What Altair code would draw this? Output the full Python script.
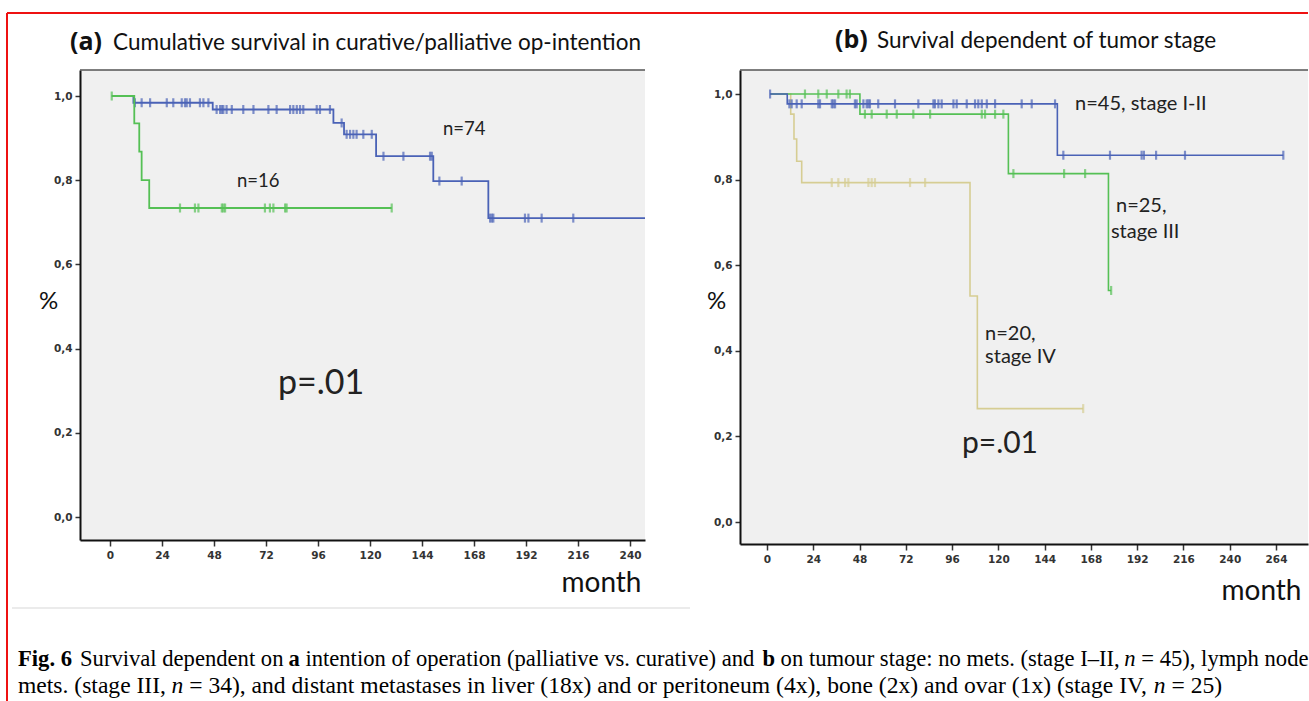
import altair as alt
import pandas as pd

# ---------------- data ----------------
# Panel (a): curative (n=74, blue) and palliative (n=16, green)
A_CUR_T = [0.8, 10.8, 47.4, 103.1, 108.0, 122.8, 149.2, 174.6, 252.0]
A_CUR_S = [1.0, 0.984, 0.968, 0.936, 0.909, 0.857, 0.798, 0.710, 0.710]
A_CUR_CENS = [11.5, 14.6, 18.5, 26.2, 29.2, 33.1, 34.6, 35.4, 36.9, 41.5, 43.1, 45.4,
              49.2, 50.8, 51.6, 52.3, 53.8, 56.2, 61.5, 66.2, 73.1, 76.9, 83.1, 84.6,
              86.2, 87.7, 89.2, 95.4, 96.9, 101.5, 106.9, 109.2, 110.8, 112.3, 113.8,
              116.9, 120.8, 126.2, 135.4, 147.7, 148.5, 152.0, 162.3, 175.4, 176.2,
              176.9, 191.5, 193.1, 199.2, 213.8]
A_PAL_T = [0.8, 11.2, 13.5, 14.6, 18.1, 130.0]
A_PAL_S = [1.0, 0.935, 0.868, 0.800, 0.734, 0.734]
A_PAL_CENS = [0.8, 32.3, 39.2, 40.8, 51.6, 52.3, 53.1, 71.5, 73.8, 75.4, 80.8, 81.5, 130.0]

# Panel (b): stage I-II (blue), stage III (green), stage IV (olive)
B_S12_T = [1.6, 10.5, 150.6, 267.8]
B_S12_S = [1.0, 0.977, 0.857, 0.857]
B_S12_CENS = [1.6, 11.6, 12.8, 15.4, 18.0, 26.6, 27.5, 33.6, 34.4, 35.3, 45.6, 46.5, 50.0,
              51.7, 52.6, 53.4, 57.7, 66.4, 78.5, 86.3, 87.1, 88.9, 90.6, 96.7, 98.4,
              103.6, 107.9, 109.6, 111.4, 114.0, 118.3, 132.1, 137.3, 149.4, 153.7,
              177.9, 194.3, 195.5, 201.8, 216.8, 267.8]
B_S3_T = [1.6, 48.2, 125.2, 177.1, 178.5]
B_S3_S = [1.0, 0.953, 0.814, 0.541, 0.541]
B_S3_CENS = [19.7, 26.6, 31.0, 37.0, 41.3, 43.0, 50.8, 54.3, 62.1, 67.3, 75.9, 84.6,
             111.4, 113.1, 118.3, 122.6, 127.8, 154.1, 165.0, 178.5]
B_S4_T = [1.6, 12.3, 14.0, 15.4, 18.0, 105.3, 109.1, 164.0]
B_S4_S = [1.0, 0.953, 0.895, 0.843, 0.793, 0.528, 0.265, 0.265]
B_S4_CENS = [33.6, 37.0, 40.5, 42.2, 52.6, 54.3, 56.0, 74.2, 82.0, 164.0]

X_TICKS_A = [0, 24, 48, 72, 96, 120, 144, 168, 192, 216, 240]
X_TICKS_B = [0, 24, 48, 72, 96, 120, 144, 168, 192, 216, 240, 264]
Y_TICKS = [0.0, 0.2, 0.4, 0.6, 0.8, 1.0]

TITLE_A = ("(a)", "Cumulative survival in curative/palliative op-intention")
TITLE_B = ("(b)", "Survival dependent of tumor stage")

LABELS_A = [("n=74", 153.7, 0.922), ("n=16", 58.6, 0.798)]
PVAL_A = ("p=.01", 77.5, 0.316)
LABELS_B = [("n=45, stage I-II", 159.8, 0.977), ("n=25,", 181.0, 0.738),
            ("stage III", 178.4, 0.678), ("n=20,", 113.1, 0.439), ("stage IV", 113.1, 0.386)]
PVAL_B = ("p=.01", 101.1, 0.182)

CAPTION_LINE1 = [("Fig. 6", "bold"), ("Survival dependent on ", "normal"), ("a", "bold"),
                 (" intention of operation (palliative vs. curative) and ", "normal"),
                 ("b", "bold"), (" on tumour stage: no mets. (stage I–II, ", "normal"),
                 ("n", "italic"), (" = 45), lymph node", "normal")]
CAPTION_LINE2 = [("mets. (stage III, ", "normal"), ("n", "italic"),
                 (" = 34), and distant metastases in liver (18x) and or peritoneum (4x), "
                  "bone (2x) and ovar (1x) (stage IV, ", "normal"),
                 ("n", "italic"), (" = 25)", "normal")]

BLUE = "#4a62b6"
GREEN = "#55c055"
OLIVE = "#d6cd93"
RED = "#ee1111"

# ---------------- geometry ----------------
A_W, A_H = 565, 470
B_W, B_H = 568, 474
A_XD = [-13.85, 246.9]
A_YD = [-0.0546, 1.0618]
B_XD = [-14.0, 280.6]
B_YD = [-0.0514, 1.0561]
A_LEFT, A_TOP = 80, 69  # page position of panel (a) plot area


def a_x(px):
    return A_XD[0] + (px - A_LEFT) / A_W * (A_XD[1] - A_XD[0])


def a_y(py):
    return A_YD[1] - (py - A_TOP) / A_H * (A_YD[1] - A_YD[0])


# Times / Liberation Serif advance widths (per 1000 em) for laying out caption runs
TIMES_R = {" ": 250, ".": 250, ",": 250, "(": 333, ")": 333, ":": 278, "=": 564, "–": 500,
           "F": 556, "S": 556, "I": 333, "V": 722, "a": 444, "b": 500, "c": 444, "d": 500,
           "e": 444, "g": 500, "h": 500, "i": 278, "l": 278, "m": 778, "n": 500, "o": 500,
           "p": 500, "r": 333, "s": 389, "t": 278, "u": 500, "v": 500, "x": 500, "y": 500}
TIMES_B = {" ": 250, ".": 250, "F": 611, "i": 278, "g": 500, "a": 500, "b": 556}


def run_width(text, style, size):
    table = TIMES_B if style == "bold" else TIMES_R
    return 0.997 * sum(table.get(ch, 500) for ch in text) / 1000.0 * size


def step_value(t, ts, ss):
    v = ss[0]
    for ti, si in zip(ts, ss):
        if ti <= t + 1e-9:
            v = si
    return v


def curve_layers(ts, ss, cens, color, xs, ys, width=1.8):
    line_df = pd.DataFrame({"t": ts, "s": ss})
    cens_df = pd.DataFrame({"t": cens, "s": [step_value(c, ts, ss) for c in cens]})
    line = alt.Chart(line_df).mark_line(interpolate="step-after", color=color,
                                        strokeWidth=width, clip=True).encode(
        x=alt.X("t:Q", scale=xs), y=alt.Y("s:Q", scale=ys))
    ticks = alt.Chart(cens_df).mark_tick(orient="vertical", color=color, size=9,
                                         thickness=2.2, clip=True).encode(
        x=alt.X("t:Q", scale=xs), y=alt.Y("s:Q", scale=ys))
    return [line, ticks]


def text_layer(rows, xs, ys, size, weight="normal", font="Lato", color="#222",
               style="normal", baseline="middle"):
    df = pd.DataFrame(rows, columns=["label", "x", "y"])
    return alt.Chart(df).mark_text(
        align="left", baseline=baseline, fontSize=size, fontWeight=weight,
        font=font, color=color, fontStyle=style).encode(
        x=alt.X("x:Q", scale=xs), y=alt.Y("y:Q", scale=ys), text="label:N")


def axes(xticks, pct_x, month_x, month_y):
    xaxis = alt.Axis(values=xticks, grid=False, domainColor="#111", domainWidth=2,
                     tickColor="#333", tickSize=6, tickWidth=1.5, labelFont="DejaVu Sans",
                     labelFontWeight="bold", labelFontSize=10.5, labelColor="#333",
                     labelPadding=4, title="month", titleFont="Lato", titleFontSize=28,
                     titleFontWeight="normal", titleColor="#111", titleAlign="right",
                     titleX=month_x, titleY=month_y, titleBaseline="middle")
    yaxis = alt.Axis(values=Y_TICKS, grid=False, domainColor="#111", domainWidth=2,
                     tickColor="#333", tickSize=5, tickWidth=1.5, labelFont="DejaVu Sans",
                     labelFontWeight="bold", labelFontSize=10.5, labelColor="#333",
                     labelPadding=3,
                     labelExpr="replace(format(datum.value, '.1f'), '.', ',')",
                     title="%", titleFont="Lato", titleFontSize=24, titleFontWeight="normal",
                     titleColor="#111", titleAngle=0, titleAlign="center",
                     titleBaseline="middle", titleX=pct_x, titleY=231)
    return xaxis, yaxis


def frame(xd, yd, xs, ys, xaxis, yaxis):
    # axis carrier + top border of the plot box
    df = pd.DataFrame({"x0": [xd[0]], "x1": [xd[1]], "y": [yd[1]]})
    return alt.Chart(df).mark_rule(color="#555", strokeWidth=1.5).encode(
        x=alt.X("x0:Q", scale=xs, axis=xaxis), x2="x1:Q",
        y=alt.Y("y:Q", scale=ys, axis=yaxis))


# ---------------- panel (a) ----------------
xs_a = alt.Scale(domain=A_XD, nice=False, zero=False)
ys_a = alt.Scale(domain=A_YD, nice=False, zero=False)
xa_axis, ya_axis = axes(X_TICKS_A, -32, 561, 43)

layers_a = [frame(A_XD, A_YD, xs_a, ys_a, xa_axis, ya_axis)]
layers_a += curve_layers(A_CUR_T, A_CUR_S, A_CUR_CENS, BLUE, xs_a, ys_a)
layers_a += curve_layers(A_PAL_T, A_PAL_S, A_PAL_CENS, GREEN, xs_a, ys_a)
layers_a.append(text_layer(LABELS_A, xs_a, ys_a, 18.5))
layers_a.append(text_layer([PVAL_A], xs_a, ys_a, 34))
layers_a.append(text_layer([(TITLE_A[0], -18.5, 1.128)], xs_a, ys_a, 25, weight="bold",
                           font="Open Sans", color="#111"))
layers_a.append(text_layer([(TITLE_A[1], 1.4, 1.126)], xs_a, ys_a, 22.5, color="#111"))

# decorative page elements (red frame, panel boundary)
border = pd.DataFrame({"x": [a_x(7), a_x(7)], "x2": [a_x(1308), a_x(7)],
                       "y": [a_y(12), a_y(12)], "y2": [a_y(12), a_y(700)]})
layers_a.append(alt.Chart(border).mark_rule(color=RED, strokeWidth=2).encode(
    x=alt.X("x:Q", scale=xs_a), x2="x2:Q", y=alt.Y("y:Q", scale=ys_a), y2="y2:Q"))
sep = pd.DataFrame({"x": [a_x(12)], "x2": [a_x(690)], "y": [a_y(607)]})
layers_a.append(alt.Chart(sep).mark_rule(color="#e4e4e4", strokeWidth=1.5).encode(
    x=alt.X("x:Q", scale=xs_a), x2="x2:Q", y=alt.Y("y:Q", scale=ys_a)))

# caption: consecutive runs of mixed bold / italic text laid out with Times metrics
CAP2_SIZE = 1204 / sum(run_width(t, s, 1.0) for t, s in CAPTION_LINE2)
CAP1_SIZE = (1308 - 80) / sum(run_width(t, s, 1.0) for t, s in CAPTION_LINE1[1:])
cap_rows = []
cur = 18
for i, (t, s) in enumerate(CAPTION_LINE1):
    if i == 1:
        cur = 80
    cap_rows.append((t, s, cur, 665, CAP1_SIZE))
    cur += run_width(t, s, CAP1_SIZE)
cur = 18
for t, s in CAPTION_LINE2:
    cap_rows.append((t, s, cur, 692, CAP2_SIZE))
    cur += run_width(t, s, CAP2_SIZE)

for (t, s, px, py, size) in cap_rows:
    lead = t[:len(t) - len(t.lstrip(" "))]
    layers_a.append(text_layer([(t.strip(" "), a_x(px + run_width(lead, s, size)), a_y(py))],
                               xs_a, ys_a, size,
                               weight="bold" if s == "bold" else "normal",
                               style="italic" if s == "italic" else "normal",
                               font="Liberation Serif", color="#000", baseline="alphabetic"))

panel_a = alt.layer(*layers_a).properties(width=A_W, height=A_H)

# ---------------- panel (b) ----------------
xs_b = alt.Scale(domain=B_XD, nice=False, zero=False)
ys_b = alt.Scale(domain=B_YD, nice=False, zero=False)
xb_axis, yb_axis = axes(X_TICKS_B, -24, 561, 47)

layers_b = [frame(B_XD, B_YD, xs_b, ys_b, xb_axis, yb_axis)]
layers_b += curve_layers(B_S4_T, B_S4_S, B_S4_CENS, OLIVE, xs_b, ys_b, width=1.6)
layers_b += curve_layers(B_S3_T, B_S3_S, B_S3_CENS, GREEN, xs_b, ys_b, width=1.6)
layers_b += curve_layers(B_S12_T, B_S12_S, B_S12_CENS, BLUE, xs_b, ys_b, width=1.6)
layers_b.append(text_layer(LABELS_B, xs_b, ys_b, 20))
layers_b.append(text_layer([PVAL_B], xs_b, ys_b, 30))
layers_b.append(text_layer([(TITLE_B[0], 35.3, 1.126)], xs_b, ys_b, 25, weight="bold",
                           font="Open Sans", color="#111"))
layers_b.append(text_layer([(TITLE_B[1], 57.1, 1.124)], xs_b, ys_b, 22.5, color="#111"))

panel_b = alt.layer(*layers_b).properties(width=B_W, height=B_H)

chart = alt.hconcat(panel_a, panel_b, spacing=95, bounds="flush").properties(
    padding={"left": 6, "top": 11, "right": 0, "bottom": 0},
    background="white",
).configure_view(fill="#f0f0f0", strokeWidth=0)

chart.save("out.html", embed_options={"renderer": "svg", "actions": False})
